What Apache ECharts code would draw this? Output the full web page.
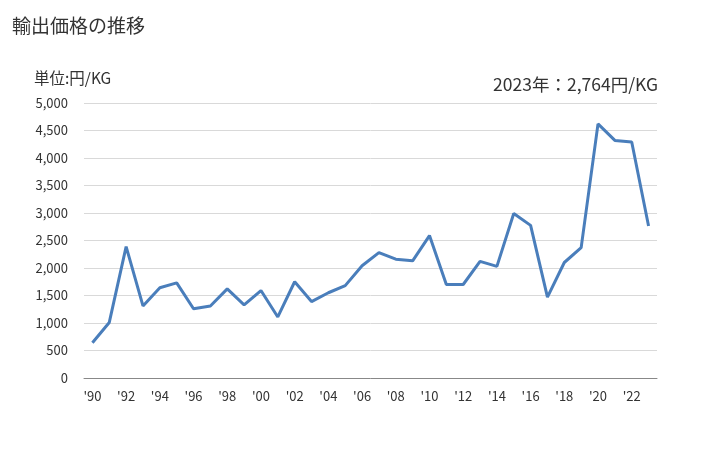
<!DOCTYPE html>
<html><head><meta charset="utf-8">
<script src="https://cdn.jsdelivr.net/npm/echarts@6/dist/echarts.min.js"></script>
<style>html,body{margin:0;padding:0;background:#fff}#c{width:728px;height:450px}</style>
</head><body><div id="c"></div>
<script>
const years = ["'90","'91","'92","'93","'94","'95","'96","'97","'98","'99","'00","'01","'02","'03","'04","'05","'06","'07","'08","'09","'10","'11","'12","'13","'14","'15","'16","'17","'18","'19","'20","'21","'22","'23"];
const prices = [640,1010,2390,1310,1640,1730,1260,1310,1620,1330,1590,1110,1750,1390,1550,1680,2040,2280,2160,2130,2590,1700,1700,2120,2030,2990,2775,1470,2100,2370,4620,4320,4290,2764];
const title = "輸出価格の推移";
const unit = "単位:円/KG";
const note = "2023年：2,764円/KG";
const font = "'Noto Sans CJK JP','Noto Sans',sans-serif";
const chart = echarts.init(document.getElementById('c'), null, {renderer:'canvas'});
chart.setOption({
  animation:false,
  textStyle:{fontFamily:font},
  graphic:[
    {type:'text',left:12,top:16,style:{text:title,font:"19px "+font,fill:'#333'}},
    {type:'text',left:34,top:70,style:{text:unit,font:"15.5px "+font,fill:'#333'}},
    {type:'text',right:70,top:76,style:{text:note,font:"17.5px "+font,fill:'#333'}}
  ],
  grid:{left:84,right:71,top:103,bottom:72,containLabel:false},
  xAxis:{type:'category',data:years,boundaryGap:true,
    axisLine:{lineStyle:{color:'#888'}},axisTick:{show:false},
    axisLabel:{interval:1,color:'#333',fontSize:13,margin:12,fontFamily:font}},
  yAxis:{type:'value',min:0,max:5000,interval:500,
    axisLine:{show:false},axisTick:{show:false},
    splitLine:{lineStyle:{color:'#d9d9d9'}},
    axisLabel:{color:'#333',fontSize:13,margin:16,fontFamily:font,
      formatter:v=>v.toLocaleString('en-US')}},
  series:[{type:'line',data:prices,symbol:'none',lineStyle:{color:'#4a7ebb',width:3}}]
});
</script></body></html>
